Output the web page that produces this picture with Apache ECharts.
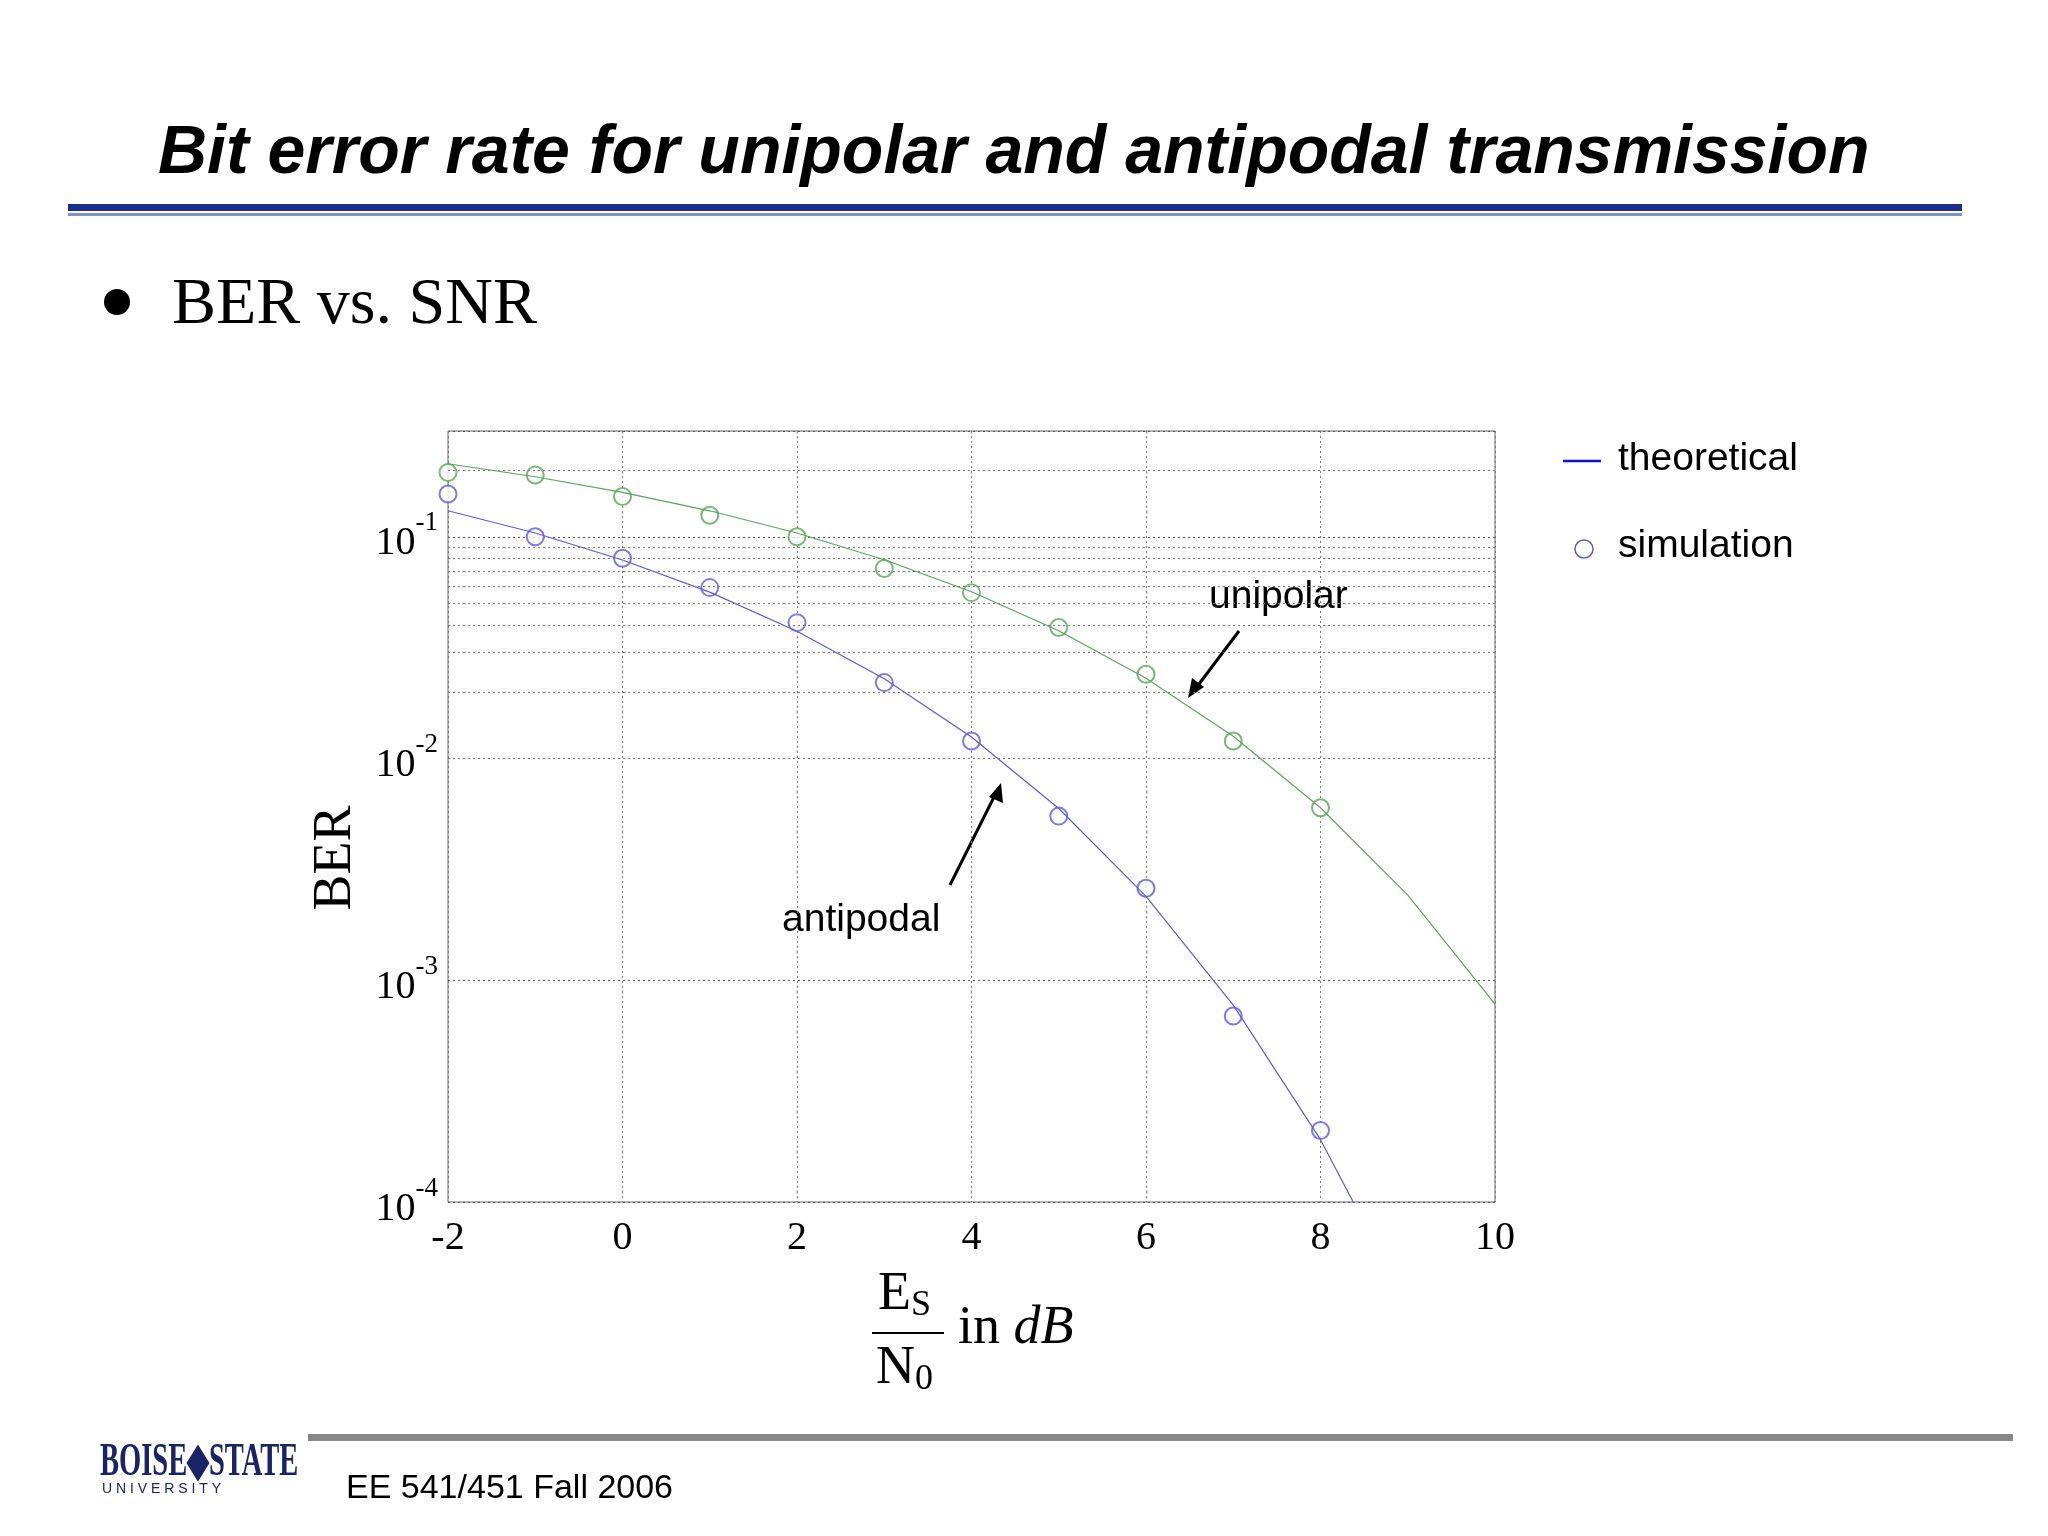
<!DOCTYPE html>
<html>
<head>
<meta charset="utf-8">
<script src="https://cdn.jsdelivr.net/npm/echarts@6/dist/echarts.min.js"></script>
<style>html,body{margin:0;background:#fff}#chart{width:2048px;height:1536px}</style>
</head>
<body>
<div id="chart"></div>
<script>
// Es/N0 in dB
var snr = [-2, -1, 0, 1, 2, 3, 4, 5, 6, 7, 8, 9, 10];
// theoretical curves
var antiTheory = [0.131, 0.104, 0.0786, 0.0563, 0.0375, 0.0229, 0.0125, 0.00595, 0.00239, 0.000773, 0.000191, 0.000034, 0.0000039];
var uniTheory = [0.2135, 0.1865, 0.1587, 0.131, 0.104, 0.0788, 0.0565, 0.0377, 0.023, 0.0126, 0.006, 0.00242, 0.00078];
// simulated points
var simX = [-2, -1, 0, 1, 2, 3, 4, 5, 6, 7, 8];
var antiSim = [0.156, 0.1, 0.08, 0.059, 0.041, 0.022, 0.012, 0.0055, 0.0026, 0.00069, 0.00021];
var uniSim = [0.195, 0.19, 0.152, 0.125, 0.1, 0.072, 0.056, 0.039, 0.024, 0.012, 0.006];
var minorLevels = [];
[1e-4, 1e-3, 1e-2, 1e-1].forEach(function (d) {
	for (var k = 2; k <= 9; k++) { if (k * d <= 0.3) minorLevels.push(k * d); }
});

function pairs(xs, ys) { return xs.map(function (x, i) { return [x, ys[i]]; }); }

var chart = echarts.init(document.getElementById('chart'));
var blue = '#5a5ae0', green = '#5aa55a', grid = '#777';
var dots = { type: [2, 3], color: grid, width: 1 };

chart.setOption({
	backgroundColor: '#fff',
	animation: false,
	grid: { left: 448, right: 553, top: 431, bottom: 334, show: true, borderColor: '#666', borderWidth: 1 },
	xAxis: {
		type: 'value', min: -2, max: 10, interval: 2,
		axisLine: { show: false }, axisTick: { show: false },
		axisLabel: { fontFamily: 'Liberation Serif', fontSize: 40, color: '#000', margin: 16 },
		splitLine: { lineStyle: dots }
	},
	yAxis: {
		type: 'log', logBase: 10, min: 0.0001, max: 0.3,
		axisLine: { show: false }, axisTick: { show: false },
		axisLabel: {
			showMaxLabel: false, margin: 10,
			formatter: function (v) {
				var e = Math.round(Math.log10(v));
				return '{b|10}{s|' + e + '}';
			},
			rich: {
				b: { fontFamily: 'Liberation Serif', fontSize: 40, color: '#000', padding: [14, 0, 0, 0] },
				s: { fontFamily: 'Liberation Serif', fontSize: 27, color: '#000', verticalAlign: 'top', padding: [0, 0, 14, 0] }
			}
		},
		splitLine: { lineStyle: { type: [2, 3], color: '#555', width: 1 } }
	},
	series: [
		{ type: 'line', data: pairs(snr, uniTheory), showSymbol: false, lineStyle: { color: green, width: 1.2 }, clip: true,
			markLine: { silent: true, symbol: 'none', label: { show: false }, lineStyle: dots,
				data: minorLevels.map(function (v) { return { yAxis: v }; }) } },
		{ type: 'line', data: pairs(snr, antiTheory), showSymbol: false, lineStyle: { color: blue, width: 1.2 }, clip: true },
		{ type: 'scatter', data: pairs(simX, uniSim), symbol: 'emptyCircle', symbolSize: 17, itemStyle: { color: green, borderColor: green, borderWidth: 1.3 } },
		{ type: 'scatter', data: pairs(simX, antiSim), symbol: 'emptyCircle', symbolSize: 17, itemStyle: { color: blue, borderColor: blue, borderWidth: 1.3 } }
	],
	graphic: [
		{ type: 'text', left: 158, top: 120, style: { text: 'Bit error rate for unipolar and antipodal transmission', font: 'italic bold 68px "Liberation Sans"', fill: '#000', textShadowColor: '#999', textShadowOffsetX: 3, textShadowOffsetY: 3 } },
		{ type: 'rect', shape: { x: 68, y: 204, width: 1894, height: 7 }, style: { fill: '#1a2f8c' } },
		{ type: 'rect', shape: { x: 68, y: 213, width: 1894, height: 3 }, style: { fill: '#7f93c8' } },
		{ type: 'circle', shape: { cx: 117, cy: 302, r: 13 }, style: { fill: '#000' } },
		{ type: 'text', left: 172, top: 273, style: { text: 'BER vs. SNR', font: '66px "Liberation Serif"', fill: '#000' } },
		// legend
		{ type: 'line', shape: { x1: 1563, y1: 461, x2: 1601, y2: 461 }, style: { stroke: '#1010d0', lineWidth: 2.5 } },
		{ type: 'text', left: 1618, top: 440, style: { text: 'theoretical', font: '39px "Liberation Sans"', fill: '#000' } },
		{ type: 'circle', shape: { cx: 1584, cy: 549, r: 9 }, style: { fill: 'none', stroke: blue, lineWidth: 1.5 } },
		{ type: 'text', left: 1618, top: 527, style: { text: 'simulation', font: '39px "Liberation Sans"', fill: '#000' } },
		// annotations
		{ type: 'text', left: 1209, top: 578, style: { text: 'unipolar', font: '39px "Liberation Sans"', fill: '#000' } },
		{ type: 'line', shape: { x1: 1239, y1: 631, x2: 1196, y2: 688 }, style: { stroke: '#000', lineWidth: 3 } },
		{ type: 'polygon', shape: { points: [[1188, 698], [1192, 678], [1204, 687]] }, style: { fill: '#000' } },
		{ type: 'text', left: 782, top: 901, style: { text: 'antipodal', font: '39px "Liberation Sans"', fill: '#000' } },
		{ type: 'line', shape: { x1: 950, y1: 885, x2: 996, y2: 793 }, style: { stroke: '#000', lineWidth: 3 } },
		{ type: 'polygon', shape: { points: [[1001, 783], [989, 797], [1003, 803]] }, style: { fill: '#000' } },
		// axis names
		{ type: 'text', x: 336, y: 858, rotation: Math.PI / 2, style: { text: 'BER', font: '54px "Liberation Serif"', fill: '#000', align: 'center', verticalAlign: 'middle' } },
		{ type: 'text', left: 878, top: 1268, style: { text: '{b|E}{s|S}', rich: { b: { font: '54px "Liberation Serif"', fill: '#000' }, s: { font: '36px "Liberation Serif"', fill: '#000', padding: [22, 0, 0, 0] } } } },
		{ type: 'rect', shape: { x: 872, y: 1332, width: 72, height: 2 }, style: { fill: '#000' } },
		{ type: 'text', left: 876, top: 1342, style: { text: '{b|N}{s|0}', rich: { b: { font: '54px "Liberation Serif"', fill: '#000' }, s: { font: '36px "Liberation Serif"', fill: '#000', padding: [22, 0, 0, 0] } } } },
		{ type: 'text', left: 958, top: 1302, style: { text: '{a|in }{b|dB}', rich: { a: { font: '54px "Liberation Serif"', fill: '#000' }, b: { font: 'italic 54px "Liberation Serif"', fill: '#000' } } } },
		// footer
		{ type: 'rect', shape: { x: 308, y: 1434, width: 1705, height: 7 }, style: { fill: '#888' } },
		{ type: 'text', left: 346, top: 1472, style: { text: 'EE 541/451 Fall 2006', font: '34px "Liberation Sans Narrow", "Liberation Sans"', fill: '#000' } },
		{ type: 'text', x: 100, y: 1440, scaleX: 0.62, style: { text: 'BOISE\u25C6STATE', font: 'bold 46px "Liberation Sans Narrow"', fill: '#1a2366' } },
		{ type: 'text', left: 102, top: 1482, style: { text: 'U N I V E R S I T Y', font: '14px "Liberation Sans"', fill: '#1a2366' } }
	]
});
</script>
</body>
</html>
